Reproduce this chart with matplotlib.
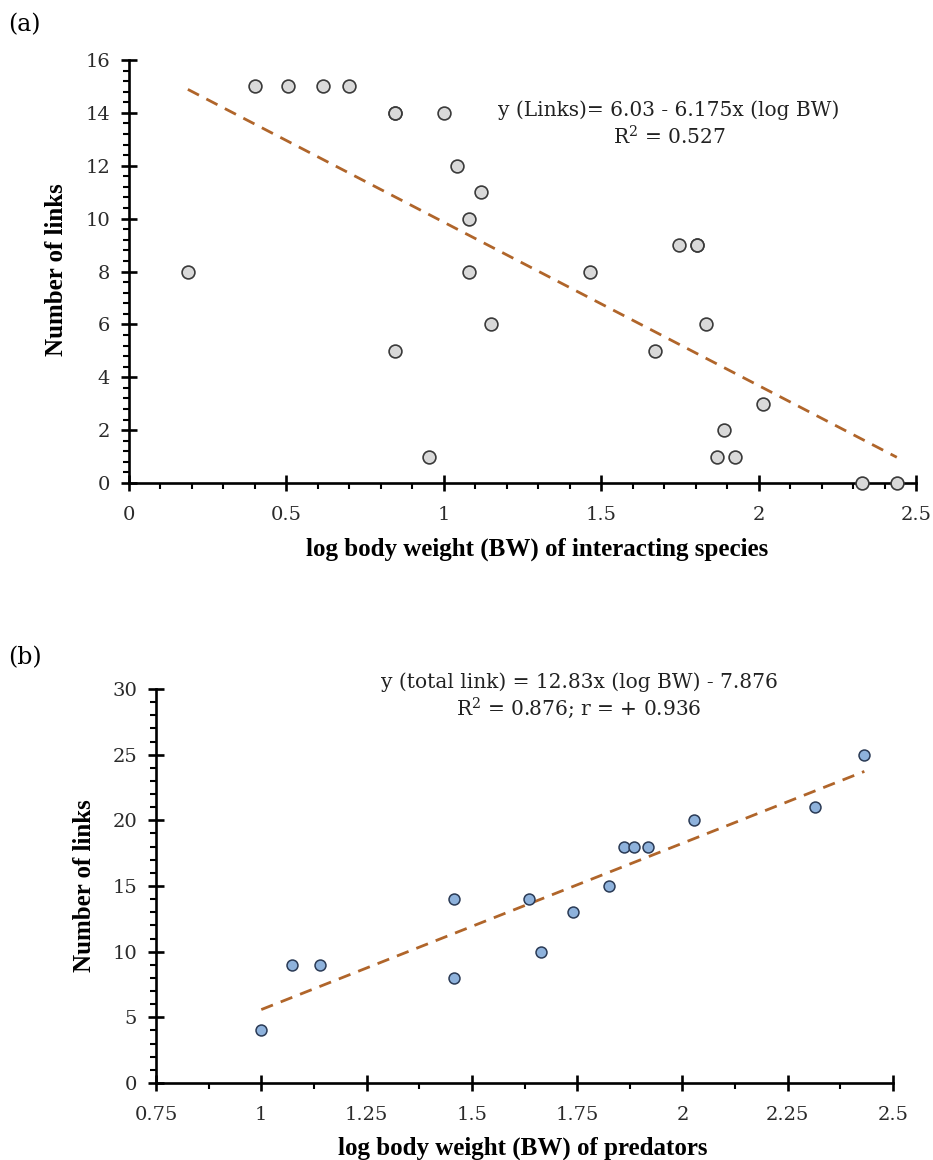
import matplotlib
matplotlib.use("Agg")
import matplotlib.pyplot as plt
import numpy as np
from matplotlib.ticker import MultipleLocator

# panel (a): log BW of interacting species vs number of links
logbw_a = [0.187, 0.40, 0.506, 0.615, 0.699, 0.846, 0.846, 1.0, 1.043, 1.117,
           1.08, 1.08, 1.149, 0.845, 0.953, 1.465, 1.671, 1.748, 1.803, 1.803,
           1.832, 1.867, 1.891, 1.924, 2.013, 2.327, 2.439]
links_a = [8, 15, 15, 15, 15, 14, 14, 14, 12, 11,
           10, 8, 6, 5, 1, 8, 5, 9, 9, 9,
           6, 1, 2, 1, 3, 0, 0]

# panel (b): log BW of predators vs total links
logbw_b = [1.0, 1.074, 1.139, 1.458, 1.458, 1.636, 1.664, 1.741, 1.826,
           1.861, 1.886, 1.918, 2.027, 2.315, 2.432]
links_b = [4, 9, 9, 14, 8, 14, 10, 13, 15, 18, 18, 18, 20, 21, 25]

eq_a = ["y (Links)= 6.03 - 6.175x (log BW)", "R$^2$ = 0.527"]
eq_b = ["y (total link) = 12.83x (log BW) - 7.876", "R$^2$ = 0.876; r = + 0.936"]

trend_col = "#b0652a"
plt.rcParams["font.family"] = ["DejaVu Serif"]
plt.rcParams["mathtext.fontset"] = "dejavuserif"
lab_font = dict(fontsize=18, fontweight="bold", family=["Liberation Serif"])

W, H = 933, 1160
fig = plt.figure(figsize=(W / 100, H / 100), dpi=100)


def style_axes(ax):
    for s in ["top", "right"]:
        ax.spines[s].set_visible(False)
    for s in ["left", "bottom"]:
        ax.spines[s].set_linewidth(1.9)
    ax.tick_params(which="major", direction="inout", length=11, width=1.9,
                   labelsize=14, pad=8, labelcolor="#2a2a2a")
    ax.tick_params(which="minor", direction="out", length=4.5, width=1.5)
    ax.tick_params(axis="x", which="major", pad=11)


# ---- (a)
ax1 = fig.add_axes([129 / W, 1 - 483 / H, 787 / W, 423 / H])
ax1.set_xlim(0, 2.5)
ax1.set_ylim(0, 16)
ax1.set_xticks([0, 0.5, 1, 1.5, 2, 2.5], ["0", "0.5", "1", "1.5", "2", "2.5"])
ax1.xaxis.set_minor_locator(MultipleLocator(0.1))
ax1.yaxis.set_major_locator(MultipleLocator(2))
ax1.yaxis.set_minor_locator(MultipleLocator(0.4))
style_axes(ax1)
k, b = np.polyfit(logbw_a, links_a, 1)
xx = np.array([min(logbw_a), max(logbw_a)])
ax1.plot(xx, k * xx + b, ls=(0, (4.5, 3)), color=trend_col, lw=2, zorder=2)
ax1.scatter(logbw_a, links_a, s=85, facecolor="#d9d9d9", edgecolor="#3a3a3a",
            linewidth=1.2, zorder=3, clip_on=False)
fig.text(669 / W, 1 - 110 / H, eq_a[0], ha="center", va="center",
         fontsize=14.5, color="#222222")
fig.text(669 / W, 1 - 137 / H, eq_a[1], ha="center", va="center",
         fontsize=14.5, color="#222222")
ax1.set_xlabel("log body weight (BW) of interacting species", **lab_font)
ax1.set_ylabel("Number of links", **lab_font)
ax1.xaxis.set_label_coords((537 - 129) / 787, (483 - 538) / 423)
ax1.yaxis.set_label_coords((68 - 129) / 787, (483 - 270) / 423)
fig.text(8 / W, 1 - 25 / H, "(a)", fontsize=17, va="center", ha="left")

# ---- (b)
ax2 = fig.add_axes([156 / W, 1 - 1083 / H, 737 / W, 394 / H])
ax2.set_xlim(0.75, 2.5)
ax2.set_ylim(0, 30)
ax2.set_xticks([0.75, 1, 1.25, 1.5, 1.75, 2, 2.25, 2.5],
               ["0.75", "1", "1.25", "1.5", "1.75", "2", "2.25", "2.5"])
ax2.xaxis.set_minor_locator(MultipleLocator(0.125))
ax2.yaxis.set_major_locator(MultipleLocator(5))
ax2.yaxis.set_minor_locator(MultipleLocator(1))
style_axes(ax2)
k2, b2 = np.polyfit(logbw_b, links_b, 1)
xx2 = np.array([min(logbw_b), max(logbw_b)])
ax2.plot(xx2, k2 * xx2 + b2, ls=(0, (4.5, 3)), color=trend_col, lw=2, zorder=2)
ax2.scatter(logbw_b, links_b, s=62, facecolor="#8eb2dc", edgecolor="#2a3a55",
            linewidth=1.1, zorder=3, clip_on=False)
fig.text(579 / W, 1 - 682 / H, eq_b[0], ha="center", va="center",
         fontsize=14.5, color="#222222")
fig.text(579 / W, 1 - 708 / H, eq_b[1], ha="center", va="center",
         fontsize=14.5, color="#222222")
ax2.set_xlabel("log body weight (BW) of predators", **lab_font)
ax2.set_ylabel("Number of links", **lab_font)
ax2.xaxis.set_label_coords((523 - 156) / 737, (1083 - 1137) / 394)
ax2.yaxis.set_label_coords((96 - 156) / 737, (1083 - 886) / 394)
fig.text(8 / W, 1 - 658 / H, "(b)", fontsize=17, va="center", ha="left")

fig.savefig("out.png", dpi=100)
